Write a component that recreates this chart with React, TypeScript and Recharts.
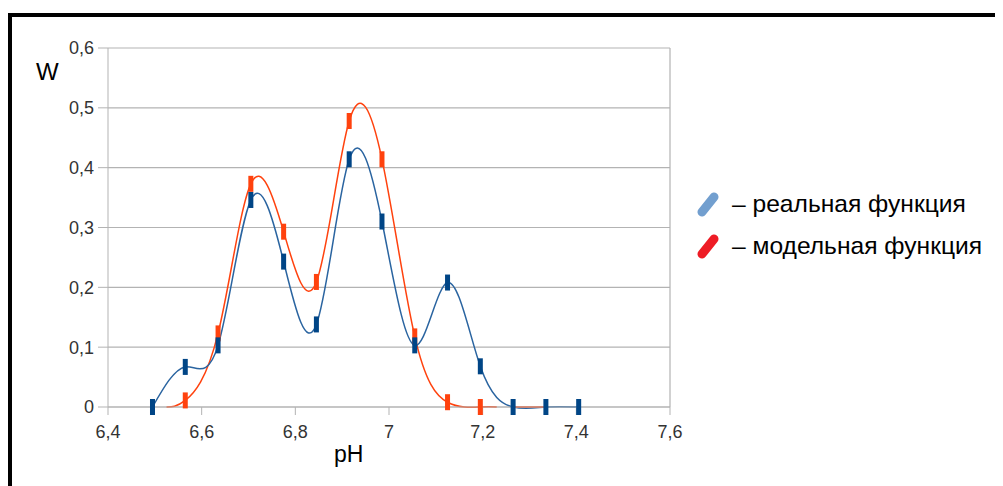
import {
  LineChart,
  Line,
  XAxis,
  YAxis,
  CartesianGrid,
  ReferenceLine,
  Legend,
} from "recharts";

// measured points (pH, W)
const phReal = [6.495, 6.565, 6.635, 6.705, 6.775, 6.845, 6.915, 6.985, 7.055, 7.125, 7.195, 7.265, 7.335, 7.405];
const wReal = [0, 0.067, 0.103, 0.346, 0.243, 0.138, 0.414, 0.31, 0.103, 0.208, 0.068, 0, 0, 0];

// model curve, first and last point carry no marker
const phModel = [6.525, 6.565, 6.635, 6.705, 6.775, 6.845, 6.915, 6.985, 7.055, 7.125, 7.195, 7.23];
const wModel = [0, 0.011, 0.123, 0.373, 0.293, 0.209, 0.478, 0.414, 0.118, 0.008, 0, 0];
const modelMarked = [false, true, true, true, true, true, true, true, true, true, true, false];

const phModelTail = [7.265, 7.335];
const wModelTail = [0, 0];

const xTicks = [6.4, 6.6, 6.8, 7, 7.2, 7.4, 7.6];
const yTicks = [0, 0.1, 0.2, 0.3, 0.4, 0.5, 0.6];

const legendItems = [
  { label: "– реальная функция", color: "#729fcf" },
  { label: "– модельная функция", color: "#ee1c25" },
];

const realData = phReal.map((ph, i) => ({ ph, w: wReal[i], mark: true }));
const modelData = phModel.map((ph, i) => ({ ph, w: wModel[i], mark: modelMarked[i] }));
const tailData = phModelTail.map((ph, i) => ({ ph, w: wModelTail[i] }));

const comma = (v: number) => String(v).replace(".", ",");

const barDot = (color: string) => (props: any) => {
  const { cx, cy, payload, index } = props;
  if (!payload || !payload.mark) return <g key={index} />;
  return <rect key={index} x={cx - 2.5} y={cy - 8} width={5} height={16} fill={color} />;
};

const font = "'Liberation Sans', Arial, sans-serif";

const LegendBox = () => (
  <div style={{ fontFamily: font, fontSize: 24.6, color: "#000" }}>
    {legendItems.map((it) => (
      <div key={it.label} style={{ display: "flex", alignItems: "center", height: 42 }}>
        <svg width={26} height={28}>
          <line x1={6} y1={22} x2={18} y2={7} stroke={it.color} strokeWidth={9} strokeLinecap="round" />
        </svg>
        <span style={{ marginLeft: 10, whiteSpace: "nowrap" }}>{it.label}</span>
      </div>
    ))}
  </div>
);

const App = () => {
  return (
    <div
      style={{
        marginTop: 5,
        borderTop: "4px solid #000",
        borderLeft: "4px solid #000",
        width: 991,
        height: 469,
        background: "#fff",
      }}
    >
      <LineChart width={991} height={469} margin={{ top: 31, right: 333, left: 0, bottom: 49 }}>
        <CartesianGrid vertical={false} stroke="#b3b3b3" strokeWidth={1.2} />
        <ReferenceLine x={7.6} stroke="#b3b3b3" strokeWidth={1.2} />
        <XAxis
          dataKey="ph"
          type="number"
          domain={[6.4, 7.6]}
          ticks={xTicks}
          tickFormatter={comma}
          allowDuplicatedCategory={false}
          stroke="#b3b3b3"
          tickSize={8}
          tickMargin={10}
          height={30}
          tick={{ fill: "#333", fontSize: 18, fontFamily: font }}
          label={(p: any) => (
            <text x={p.viewBox.x + 226} y={p.viewBox.y + 55} fontSize={23} fontFamily={font} fill="#000">
              pH
            </text>
          )}
        />
        <YAxis
          dataKey="w"
          type="number"
          domain={[0, 0.6]}
          ticks={yTicks}
          tickFormatter={comma}
          stroke="#b3b3b3"
          width={96}
          tickSize={10}
          tickMargin={4}
          tick={{ fill: "#333", fontSize: 18, fontFamily: font }}
          label={(p: any) => (
            <text x={p.viewBox.x + 24} y={p.viewBox.y + 32} fontSize={24} fontFamily={font} fill="#000">
              W
            </text>
          )}
        />
        <Legend
          layout="vertical"
          align="center"
          verticalAlign="middle"
          content={() => <LegendBox />}
          wrapperStyle={{ left: 684, top: 166, width: 310 }}
        />
        <Line
          data={modelData}
          dataKey="w"
          type="natural"
          stroke="#ff420e"
          strokeWidth={1.5}
          dot={barDot("#ff420e")}
          activeDot={false}
          isAnimationActive={false}
          legendType="none"
        />
        <Line
          data={realData}
          dataKey="w"
          type="natural"
          stroke="#2a64a0"
          strokeWidth={1.5}
          dot={barDot("#004586")}
          activeDot={false}
          isAnimationActive={false}
          legendType="none"
        />
        <Line
          data={tailData}
          dataKey="w"
          type="linear"
          stroke="#ff420e"
          strokeWidth={1.5}
          dot={false}
          activeDot={false}
          isAnimationActive={false}
          legendType="none"
        />
      </LineChart>
    </div>
  );
};

export default App;
